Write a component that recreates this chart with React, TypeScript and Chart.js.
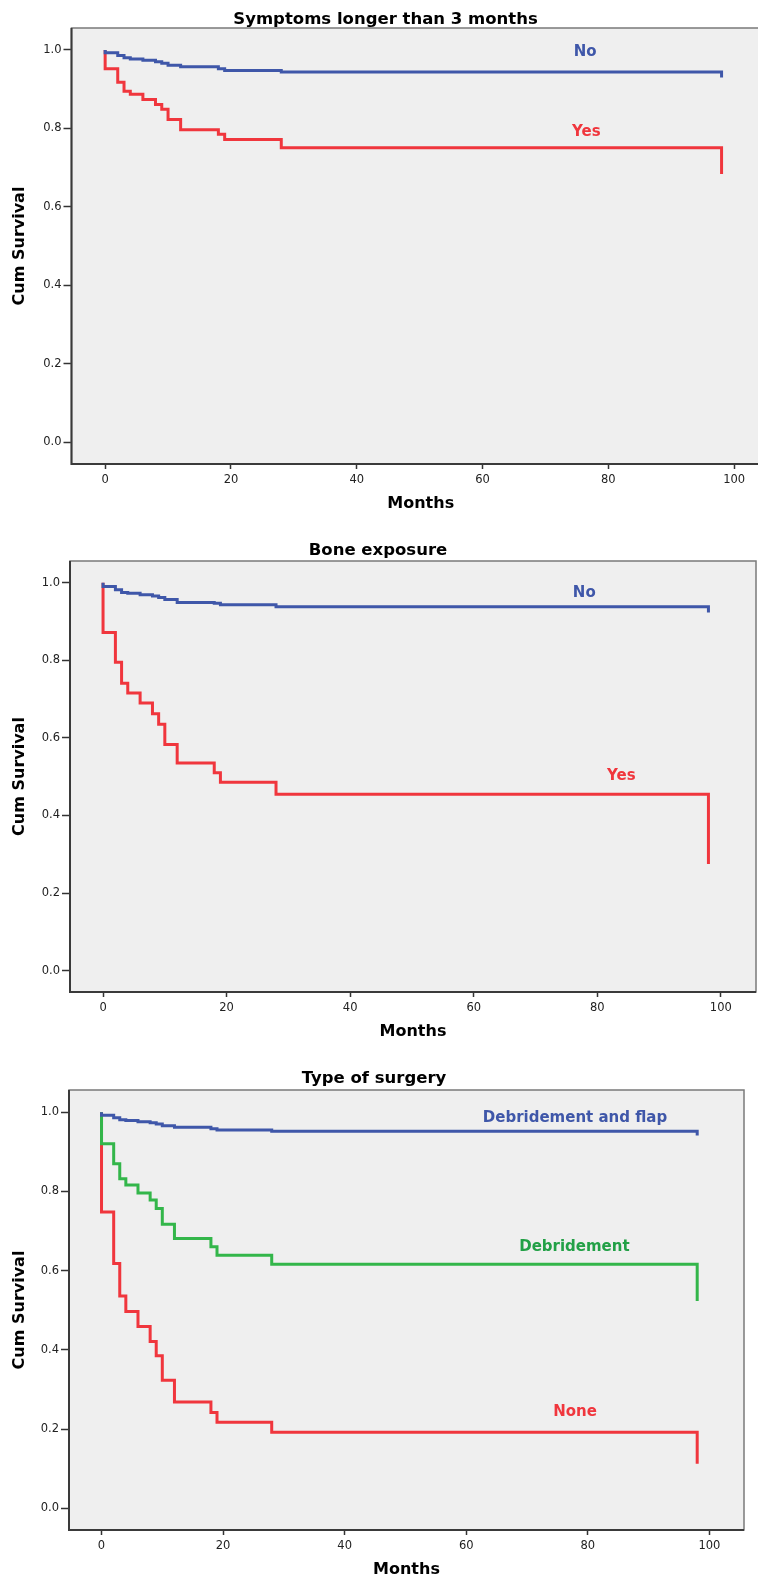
import React, { useEffect, useRef } from 'react';
import { Chart, registerables } from 'chart.js';

Chart.register(...registerables);

// ---------- data ----------
const MONTHS = [0, 0, 2, 3, 4, 6, 8, 9, 10, 12, 18, 19, 28, 98];

const X_TICKS = [0, 20, 40, 60, 80, 100];
const X_TICK_LABELS = ['0', '20', '40', '60', '80', '100'];
const Y_TICKS = [0, 0.2, 0.4, 0.6, 0.8, 1.0];
const Y_TICK_LABELS = ['0.0', '0.2', '0.4', '0.6', '0.8', '1.0'];

const SYMPTOMS_NO = [1, 0.993, 0.986, 0.98, 0.977, 0.974, 0.97, 0.966, 0.961, 0.957, 0.952, 0.948, 0.944, 0.93];
const SYMPTOMS_YES = [1, 0.952, 0.918, 0.895, 0.887, 0.874, 0.861, 0.849, 0.823, 0.797, 0.785, 0.772, 0.751, 0.684];

const BONE_NO = [1, 0.99, 0.982, 0.975, 0.973, 0.969, 0.966, 0.962, 0.957, 0.949, 0.947, 0.943, 0.938, 0.923];
const BONE_YES = [1, 0.872, 0.795, 0.741, 0.716, 0.69, 0.662, 0.635, 0.583, 0.535, 0.51, 0.486, 0.455, 0.275];

const SURGERY_FLAP = [1, 0.992, 0.986, 0.981, 0.979, 0.976, 0.973, 0.97, 0.966, 0.962, 0.958, 0.955, 0.952, 0.941];
const SURGERY_DEBRIDEMENT = [1, 0.92, 0.87, 0.832, 0.816, 0.796, 0.778, 0.757, 0.717, 0.681, 0.66, 0.639, 0.616, 0.523];
const SURGERY_NONE = [1, 0.748, 0.618, 0.536, 0.497, 0.459, 0.421, 0.385, 0.323, 0.268, 0.242, 0.217, 0.192, 0.112];

const TITLES = ['Symptoms longer than 3 months', 'Bone exposure', 'Type of surgery'];
const X_TITLE = 'Months';
const Y_TITLE = 'Cum Survival';

// ---------- styles / layout ----------
const BLUE = '#3f57a9';
const RED = '#f0363d';
const GREEN = '#33b64a';
const GREEN_TEXT = '#22a046';
const FONT = '"DejaVu Sans", "Liberation Sans", Arial, sans-serif';

const X_MIN = -5.35;
const X_MAX = 105.7;
const Y_MIN = -0.055;
const Y_MAX = 1.056;

type Series = { label: string; values: number[]; color: string; textColor: string; at: [number, number] };
type Geo = {
  top: number; W: number; H: number; L: number; R: number; T: number; B: number;
  titleCY: number; titleCX: number; monthsCY: number; cumCX: number;
};
type PanelCfg = { title: string; series: Series[]; geo: Geo };

const PANELS: PanelCfg[] = [
  {
    title: TITLES[0],
    series: [
      { label: 'No', values: SYMPTOMS_NO, color: BLUE, textColor: BLUE, at: [76.3, 0.995] },
      { label: 'Yes', values: SYMPTOMS_YES, color: RED, textColor: RED, at: [76.5, 0.79] },
    ],
    geo: { top: 0, W: 772, H: 525, L: 71.5, R: 770, T: 28, B: 464, titleCY: 20, titleCX: 385.5, monthsCY: 504, cumCX: 20 },
  },
  {
    title: TITLES[1],
    series: [
      { label: 'No', values: BONE_NO, color: BLUE, textColor: BLUE, at: [77.9, 0.972] },
      { label: 'Yes', values: BONE_YES, color: RED, textColor: RED, at: [83.9, 0.501] },
    ],
    geo: { top: 530, W: 758, H: 515, L: 70, R: 756, T: 31, B: 462, titleCY: 20.7, titleCX: 378, monthsCY: 501.7, cumCX: 20 },
  },
  {
    title: TITLES[2],
    series: [
      { label: 'Debridement and flap', values: SURGERY_FLAP, color: BLUE, textColor: BLUE, at: [77.9, 0.985] },
      { label: 'Debridement', values: SURGERY_DEBRIDEMENT, color: GREEN, textColor: GREEN_TEXT, at: [77.8, 0.66] },
      { label: 'None', values: SURGERY_NONE, color: RED, textColor: RED, at: [77.9, 0.242] },
    ],
    geo: { top: 1050, W: 758, H: 530, L: 69, R: 744, T: 40, B: 480, titleCY: 29, titleCX: 374, monthsCY: 520, cumCX: 20 },
  },
];

function buildConfig(cfg: PanelCfg): any {
  const g = cfg.geo;
  const padL = 2 * g.titleCX - g.R;
  const padR = g.W - g.R;
  const yW = g.L - padL;
  const TITLE_LH = 14;
  const AX_LH = 18;
  const titlePadTop = g.titleCY - TITLE_LH / 2;
  const titlePadBottom = g.T - g.titleCY - TITLE_LH / 2;
  const xH = g.monthsCY + AX_LH / 2 - g.B;
  const padB = g.H - g.B - xH;
  const yTitlePad = g.cumCX - padL - AX_LH / 2;

  const framePlugin = {
    id: 'frame',
    beforeDraw(chart: any) {
      const { ctx, chartArea: a } = chart;
      ctx.save();
      ctx.fillStyle = '#efefef';
      ctx.fillRect(a.left, a.top, a.right - a.left, a.bottom - a.top);
      ctx.restore();
    },
    afterDatasetsDraw(chart: any) {
      const { ctx, chartArea: a } = chart;
      ctx.save();
      ctx.strokeStyle = '#7a7a7a';
      ctx.lineWidth = 1.5;
      ctx.strokeRect(a.left, a.top, a.right - a.left, a.bottom - a.top);
      ctx.strokeStyle = '#3a3a3a';
      ctx.lineWidth = 2;
      ctx.beginPath();
      ctx.moveTo(a.left, a.top);
      ctx.lineTo(a.left, a.bottom);
      ctx.lineTo(a.right, a.bottom);
      ctx.stroke();
      // curve labels
      const xs = chart.scales.x;
      const ys = chart.scales.y;
      ctx.font = `bold 15px ${FONT}`;
      ctx.textAlign = 'center';
      ctx.textBaseline = 'middle';
      cfg.series.forEach((s) => {
        ctx.fillStyle = s.textColor;
        ctx.fillText(s.label, xs.getPixelForValue(s.at[0]), ys.getPixelForValue(s.at[1]));
      });
      ctx.restore();
    },
  };

  return {
    type: 'line',
    data: {
      datasets: cfg.series.map((s) => ({
        label: s.label,
        data: MONTHS.map((m, i) => ({ x: m, y: s.values[i] })),
        borderColor: s.color,
        backgroundColor: s.color,
        borderWidth: 3,
        pointRadius: 0,
        stepped: 'before',
        fill: false,
        tension: 0,
        borderCapStyle: 'butt',
        borderJoinStyle: 'miter',
      })),
    },
    options: {
      animation: false,
      responsive: false,
      maintainAspectRatio: false,
      devicePixelRatio: 1,
      events: [],
      layout: { padding: { left: padL, right: padR, top: 0, bottom: padB } },
      plugins: {
        legend: { display: false },
        tooltip: { enabled: false },
        title: {
          display: true,
          text: cfg.title,
          color: '#000',
          font: { family: FONT, size: 16.5, weight: 'bold', lineHeight: `${TITLE_LH}px` },
          padding: { top: titlePadTop, bottom: titlePadBottom },
        },
      },
      scales: {
        x: {
          type: 'linear',
          min: X_MIN,
          max: X_MAX,
          afterBuildTicks: (s: any) => { s.ticks = X_TICKS.map((v) => ({ value: v })); },
          afterFit: (s: any) => { s.height = xH; },
          ticks: {
            autoSkip: false,
            maxRotation: 0,
            padding: 4.5,
            color: '#222',
            font: { family: FONT, size: 11.5 },
            callback: (_v: any, i: number) => X_TICK_LABELS[i],
          },
          grid: { display: true, drawOnChartArea: false, drawTicks: true, tickLength: 5, tickColor: '#333', tickWidth: 1.5 },
          border: { display: false },
          title: {
            display: true,
            text: X_TITLE,
            color: '#000',
            font: { family: FONT, size: 16, weight: 'bold', lineHeight: `${AX_LH}px` },
            padding: { top: 0, bottom: 0 },
          },
        },
        y: {
          type: 'linear',
          min: Y_MIN,
          max: Y_MAX,
          afterBuildTicks: (s: any) => { s.ticks = Y_TICKS.map((v) => ({ value: v })); },
          afterFit: (s: any) => { s.width = yW; },
          ticks: {
            autoSkip: false,
            padding: 2,
            color: '#222',
            font: { family: FONT, size: 11.5 },
            callback: (_v: any, i: number) => Y_TICK_LABELS[i],
          },
          grid: { display: true, drawOnChartArea: false, drawTicks: true, tickLength: 8, tickColor: '#333', tickWidth: 1.5 },
          border: { display: false },
          title: {
            display: true,
            text: Y_TITLE,
            color: '#000',
            font: { family: FONT, size: 16, weight: 'bold', lineHeight: `${AX_LH}px` },
            padding: { top: yTitlePad, bottom: 0 },
          },
        },
      },
    },
    plugins: [framePlugin],
  };
}

function Panel({ cfg }: { cfg: PanelCfg }) {
  const ref = useRef<HTMLCanvasElement | null>(null);
  useEffect(() => {
    if (!ref.current) return;
    const chart = new Chart(ref.current, buildConfig(cfg));
    return () => chart.destroy();
  }, [cfg]);
  const g = cfg.geo;
  return (
    <canvas
      ref={ref}
      width={g.W}
      height={g.H}
      style={{ position: 'absolute', left: 0, top: g.top, width: g.W, height: g.H, display: 'block' }}
    />
  );
}

export default function App() {
  return (
    <div
      style={{
        position: 'absolute',
        left: 0,
        top: 0,
        width: 758,
        height: 1580,
        overflow: 'hidden',
        background: '#fff',
      }}
    >
      {PANELS.map((p, i) => (
        <Panel key={i} cfg={p} />
      ))}
    </div>
  );
}
